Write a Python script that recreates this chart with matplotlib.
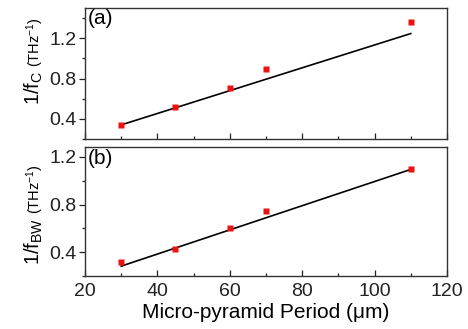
import numpy as np
import matplotlib.pyplot as plt
from matplotlib.ticker import MultipleLocator

plt.rcParams['font.family'] = ['Liberation Sans', 'DejaVu Sans']
plt.rcParams['mathtext.fontset'] = 'custom'
plt.rcParams['mathtext.rm'] = 'Liberation Sans'
plt.rcParams['mathtext.it'] = 'Liberation Sans'

# data
period = [30, 45, 60, 70, 110]
inv_fc = [0.34, 0.515, 0.71, 0.895, 1.36]
inv_fbw = [0.32, 0.43, 0.605, 0.745, 1.10]
fit_x = [30, 110]
fit_fc = [0.34, 1.247]
fit_fbw = [0.283, 1.095]

fig = plt.figure(figsize=(4.68, 3.29), dpi=100)
ax1 = fig.add_axes([0.1816, 0.5775, 0.7735, 0.398])
ax2 = fig.add_axes([0.1816, 0.161, 0.7735, 0.391])

def style(ax, ylim):
    ax.set_xlim(20, 120)
    ax.set_ylim(*ylim)
    ax.xaxis.set_major_locator(MultipleLocator(20))
    ax.xaxis.set_minor_locator(MultipleLocator(10))
    ax.set_yticks([0.4, 0.8, 1.2])
    ax.yaxis.set_minor_locator(MultipleLocator(0.2))
    ax.tick_params(axis='x', which='both', direction='in', labelsize=14, colors='#222222', pad=5)
    ax.tick_params(axis='y', which='both', direction='out', labelsize=14, colors='#222222', pad=2)
    ax.tick_params(which='major', length=4, width=0.9)
    ax.tick_params(which='minor', length=2.5, width=0.9)
    for s in ax.spines.values():
        s.set_color('#333333')
        s.set_linewidth(1.0)

# top panel
ax1.plot(fit_x, fit_fc, color='black', lw=1.2)
ax1.plot(period, inv_fc, 's', color='#ee1111', ms=5, mec='none')
style(ax1, (0.2, 1.5))
ax1.tick_params(axis='x', labelbottom=False)
ax1.text(0.008, 0.99, '(a)', transform=ax1.transAxes, fontsize=15, va='top', ha='left')
ax1.text(-0.14, 0.52, r'1/f$_\mathrm{C}$', transform=ax1.transAxes, rotation=90,
         fontsize=14.5, ha='center', va='top')
ax1.text(-0.137, 0.52, r' (THz$^{-1}$)', transform=ax1.transAxes, rotation=90,
         fontsize=10.5, ha='center', va='bottom')

# bottom panel
ax2.plot(fit_x, fit_fbw, color='black', lw=1.2)
ax2.plot(period, inv_fbw, 's', color='#ee1111', ms=5, mec='none')
style(ax2, (0.2, 1.28))
ax2.text(0.008, 0.99, '(b)', transform=ax2.transAxes, fontsize=15, va='top', ha='left')
ax2.text(-0.14, 0.45, r'1/f$_\mathrm{BW}$', transform=ax2.transAxes, rotation=90,
         fontsize=14.5, ha='center', va='top')
ax2.text(-0.137, 0.45, r' (THz$^{-1}$)', transform=ax2.transAxes, rotation=90,
         fontsize=10.5, ha='center', va='bottom')
ax2.set_xlabel('Micro-pyramid Period (μm)', fontsize=15, labelpad=2)

fig.savefig('out.png', dpi=100)
